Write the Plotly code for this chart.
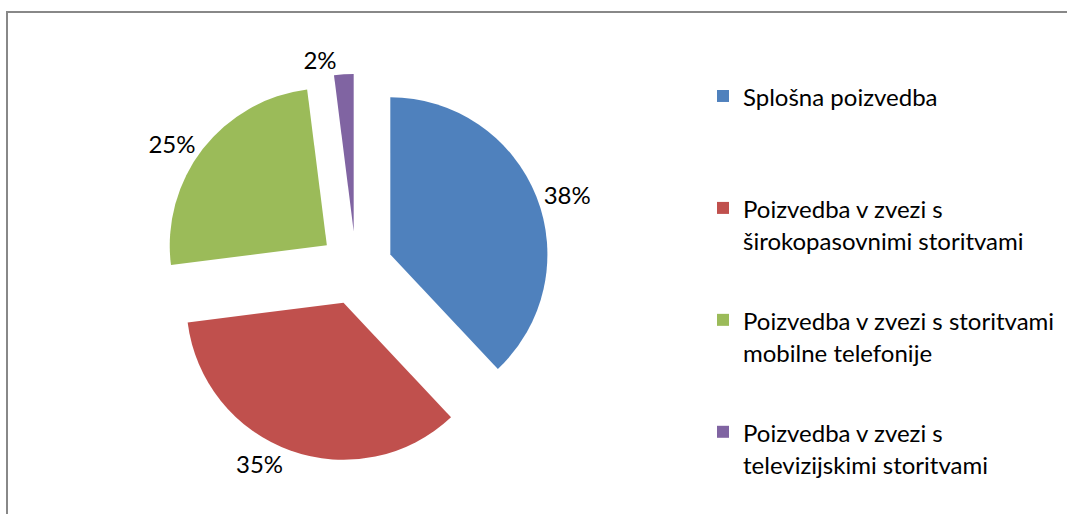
import plotly.graph_objects as go

categories = [
    "Splošna poizvedba",
    "Poizvedba v zvezi s<br>širokopasovnimi storitvami",
    "Poizvedba v zvezi s storitvami<br>mobilne telefonije",
    "Poizvedba v zvezi s<br>televizijskimi storitvami",
]
values = [38, 35, 25, 2]
colors = ["#4F81BD", "#C0504D", "#9BBB59", "#8064A2"]

W, H = 1067, 514
LEG_TEXT_SIZE = 24      # visible legend text size
LEG_BASE_SIZE = 4.19    # base size -> fine line grid for spacing


def legend_label(cat):
    # build a 20-line entry on a fine grid: text on line 12 (and 18),
    # so entries are evenly spaced like the original Excel legend
    parts = cat.split("<br>")
    lines = [" "] * 20
    lines[11] = f'<span style="font-size:{LEG_TEXT_SIZE}px">{parts[0]}</span>'
    if len(parts) > 1:
        lines[17] = f'<span style="font-size:{LEG_TEXT_SIZE}px">{parts[1]}</span>'
    return "<br>".join(lines)


legend_labels = [legend_label(c) for c in categories]

fig = go.Figure(
    go.Pie(
        labels=legend_labels,
        values=values,
        sort=False,
        direction="clockwise",
        rotation=0,
        pull=[0.235] * len(values),
        marker=dict(colors=colors, line=dict(width=0)),
        textinfo="percent",
        texttemplate="%{percent:.0%}",
        textposition="outside",
        outsidetextfont=dict(family="Lato", size=24, color="#000000"),
        domain=dict(x=[162 / W, 550 / W], y=[1 - 462 / H, 1 - 74 / H]),
        hoverinfo="percent",
    )
)

fig.update_layout(
    width=W,
    height=H,
    margin=dict(l=0, r=0, t=0, b=0, autoexpand=False),
    paper_bgcolor="white",
    plot_bgcolor="white",
    showlegend=True,
    legend=dict(
        x=703 / W,
        y=1 - 35 / H,
        xanchor="left",
        yanchor="top",
        valign="middle",
        font=dict(family="Lato", size=LEG_BASE_SIZE, color="#000000"),
        bgcolor="rgba(0,0,0,0)",
        itemclick=False,
        itemdoubleclick=False,
    ),
    shapes=[
        dict(
            type="rect",
            xref="paper",
            yref="paper",
            x0=7 / W,
            x1=1.01,
            y0=-0.02,
            y1=1 - 12 / H,
            line=dict(color="#888888", width=2),
            fillcolor="rgba(0,0,0,0)",
            layer="below",
        )
    ],
)

fig.write_html(
    "out.html",
    config={"displayModeBar": False},
    post_script="document.body.style.margin='0';document.body.style.overflow='hidden';",
)
